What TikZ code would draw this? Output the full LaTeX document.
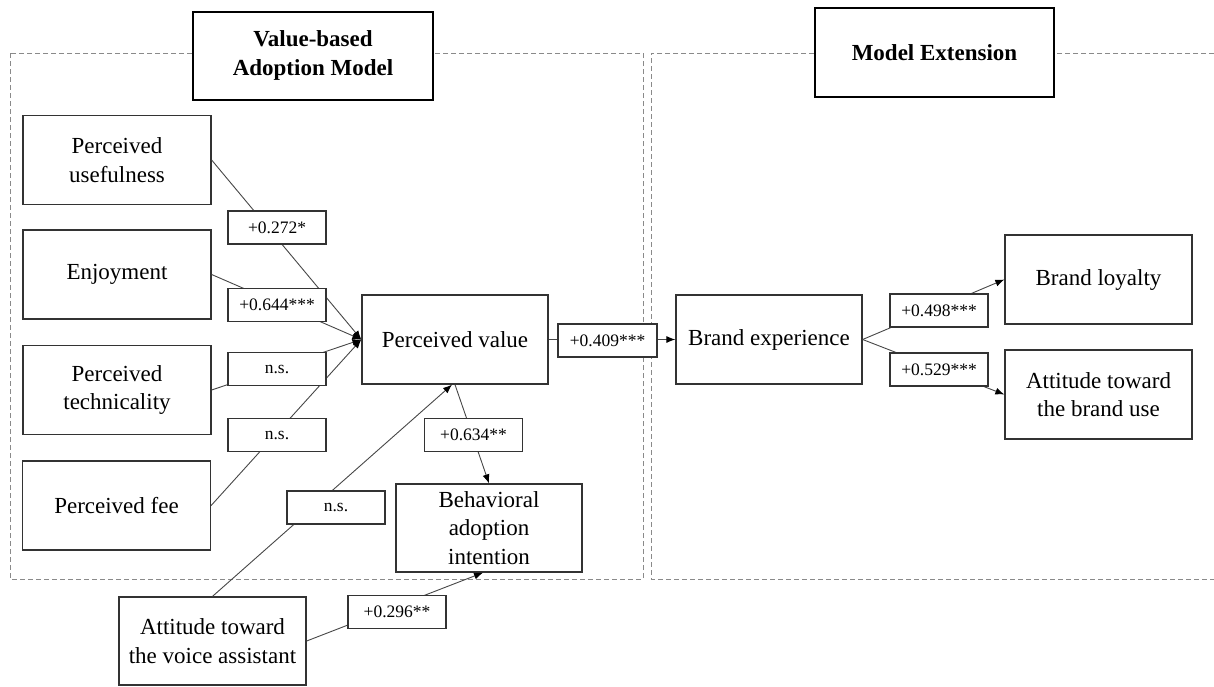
\documentclass[tikz,border=0pt]{standalone}
\usepackage{fontspec}
\setmainfont{Liberation Serif}
\usetikzlibrary{arrows.meta}
\definecolor{boxline}{HTML}{333333}
\definecolor{linkgray}{HTML}{474747}
\definecolor{dashgray}{HTML}{8A8A8A}

\begin{document}
\begin{tikzpicture}[x=1pt,y=-1pt,
  construct/.style={draw=boxline, line width=1.3pt, fill=white, minimum width=188pt,
    minimum height=89pt, inner sep=0pt, align=center,
    font=\fontsize{23}{28.5}\selectfont},
  header/.style={draw=black, line width=2pt, fill=white, minimum width=240pt,
    minimum height=88pt, inner sep=0pt, align=center,
    font=\fontsize{23}{29}\selectfont\bfseries},
  coef/.style={draw=boxline, line width=1.1pt, fill=white, minimum width=98pt,
    minimum height=33pt, inner sep=0pt, font=\fontsize{17.5}{20}\selectfont},
  link/.style={draw=linkgray, line width=0.9pt},
  arrowlink/.style={link, -{Latex[length=9pt,width=7pt,color=black]}},
  region/.style={draw=dashgray, line width=1pt, dash pattern=on 5pt off 3pt}]

\useasboundingbox (0,0) rectangle (1214,686);

% dashed model regions
\draw[region] (10,53) rectangle (643,579);
\draw[region] (1214,53) -- (651,53) -- (651,579) -- (1214,579);

% section headers
\node[header] (hvam) at (313,55.5) {Value-based\\Adoption Model};
\node[header, minimum width=239pt, minimum height=89pt] (hext) at (934.5,52.5) {Model Extension};

% constructs
\node[construct] (pu)  at (117,160)     {Perceived\\usefulness};
\node[construct] (enj) at (117,274.5)   {Enjoyment};
\node[construct] (pt)  at (117,390)     {Perceived\\technicality};
\node[construct] (pf)  at (116.5,505.5) {Perceived fee};
\node[construct, minimum width=186pt] (pv)  at (455,339.5) {Perceived value};
\node[construct, minimum width=186pt, minimum height=88pt] (bai) at (489,528) {Behavioral\\adoption\\intention};
\node[construct, minimum width=187pt, minimum height=88pt] (atv) at (212.5,641) {Attitude toward\\the voice assistant};
\node[construct, minimum width=186pt] (be)  at (769,339.5) {Brand experience};
\node[construct, minimum width=187pt] (bl)  at (1098.5,279.5) {Brand loyalty};
\node[construct, minimum width=187pt] (abu) at (1098.5,394.5) {Attitude toward\\the brand use};

% structural paths
\draw[arrowlink] (pu.east)  -- (pv.west);
\draw[arrowlink] (enj.east) -- (pv.west);
\draw[arrowlink] (pt.east)  -- (pv.west);
\draw[arrowlink] (pf.east)  -- (pv.west);
\draw[arrowlink] (atv.north) -- ([xshift=-3pt]pv.south);
\draw[arrowlink] (pv.south) -- (bai.north);
\draw[arrowlink] (atv.east) -- ([xshift=-6pt]bai.south);
\draw[arrowlink] (pv.east)  -- (be.west);
\draw[arrowlink] (be.east)  -- (bl.west);
\draw[arrowlink] (be.east)  -- (abu.west);

% path coefficients
\node[coef] (c272) at (277,227.5) {+0.272*};
\node[coef] (c644) at (277,305)   {+0.644***};
\node[coef] (cpt)  at (277,369)   {n.s.};
\node[coef] (cpf)  at (277,435)   {n.s.};
\node[coef] (catv) at (336,507.5) {n.s.};
\node[coef] (c634) at (473.5,435) {+0.634**};
\node[coef] (c296) at (397,612)   {+0.296**};
\node[coef, minimum width=99pt] (c409) at (607.5,340.5) {+0.409***};
\node[coef] (c498) at (939,310.5) {+0.498***};
\node[coef] (c529) at (939,369.5) {+0.529***};

\end{tikzpicture}
\end{document}
